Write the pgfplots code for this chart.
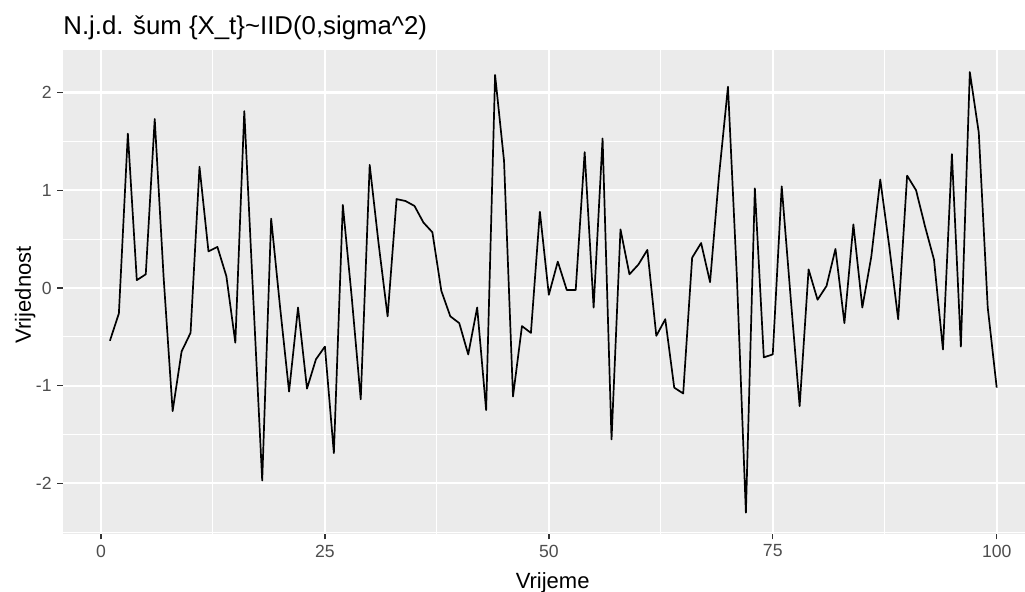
\documentclass[border=0pt]{standalone}
\usepackage{pgfplots}
\pgfplotsset{compat=1.18}
\usepackage{fontspec}
\setmainfont{Liberation Sans}
\definecolor{panelbg}{HTML}{EBEBEB}
\definecolor{ticklab}{HTML}{4D4D4D}
\definecolor{tickcol}{HTML}{333333}
\begin{document}
\begin{tikzpicture}
\path[use as bounding box] (-31.5pt,-29pt) rectangle (481pt,267pt);
\begin{axis}[
  at={(0,0)}, anchor=south west,
  width=481pt, height=242pt, scale only axis,
  xmin=-4.24, xmax=103.16, ymin=-2.518, ymax=2.436,
  axis background/.style={fill=panelbg},
  axis line style={draw=none},
  xtick={0,25,50,75,100}, xticklabels={0,25,50,75,100},
  ytick={-2,-1,0,1,2}, yticklabels={{-2},{-1},0,1,2},
  minor xtick={12.5,37.5,62.5,87.5},
  minor ytick={-2.5,-1.5,-0.5,0.5,1.5},
  grid=both,
  major grid style={white, line width=1.1pt},
  minor grid style={white, line width=0.55pt},
  tick align=outside,
  major tick length=2.75pt, minor tick length=0pt,
  tick style={tickcol, line width=0.7pt},
  xtick pos=left, ytick pos=left,
  ticklabel style={font=\fontsize{8.8pt}{10pt}\selectfont, text=ticklab, inner sep=0pt},
  yticklabel style={anchor=east, xshift=-2.75pt},
  xticklabel style={anchor=north, yshift=-2.5pt},
  title={N.j.d. šum \{X\_t\}\textasciitilde IID(0,sigma\textasciicircum 2)},
  every axis title/.style={at={([yshift=7.5pt]axis description cs:0,1)}, anchor=base west, inner sep=0pt, font=\fontsize{12.9pt}{14pt}\selectfont},
  xlabel={Vrijeme},
  xlabel style={at={([yshift=-27.5pt]axis description cs:0.509,0)}, anchor=base, inner sep=0pt, font=\fontsize{11pt}{13pt}\selectfont},
  ylabel={Vrijednost},
  ylabel style={at={([xshift=-16pt]axis description cs:0,0.494)}, anchor=base, inner sep=0pt, font=\fontsize{11pt}{13pt}\selectfont},
  clip=true,
]
\addplot[black, line width=0.85pt, line join=round] coordinates {
(1,-0.54) (2,-0.26) (3,1.58) (4,0.08) (5,0.14) (6,1.73) (7,0.1) (8,-1.26) (9,-0.65) (10,-0.46)
(11,1.24) (12,0.375) (13,0.42) (14,0.12) (15,-0.56) (16,1.81) (17,-0.1) (18,-1.97) (19,0.71) (20,-0.2)
(21,-1.06) (22,-0.20) (23,-1.03) (24,-0.73) (25,-0.60) (26,-1.69) (27,0.85) (28,-0.1) (29,-1.14) (30,1.26)
(31,0.45) (32,-0.29) (33,0.91) (34,0.89) (35,0.84) (36,0.67) (37,0.57) (38,-0.03) (39,-0.29) (40,-0.36)
(41,-0.68) (42,-0.20) (43,-1.25) (44,2.18) (45,1.3) (46,-1.11) (47,-0.39) (48,-0.46) (49,0.78) (50,-0.07)
(51,0.27) (52,-0.02) (53,-0.02) (54,1.39) (55,-0.20) (56,1.53) (57,-1.55) (58,0.60) (59,0.14) (60,0.24)
(61,0.39) (62,-0.49) (63,-0.32) (64,-1.02) (65,-1.08) (66,0.31) (67,0.46) (68,0.06) (69,1.15) (70,2.06)
(71,0.1) (72,-2.30) (73,1.02) (74,-0.71) (75,-0.68) (76,1.04) (77,-0.1) (78,-1.21) (79,0.19) (80,-0.12)
(81,0.02) (82,0.40) (83,-0.36) (84,0.65) (85,-0.20) (86,0.32) (87,1.11) (88,0.43) (89,-0.32) (90,1.15)
(91,1.0) (92,0.63) (93,0.29) (94,-0.63) (95,1.37) (96,-0.60) (97,2.21) (98,1.59) (99,-0.2) (100,-1.02)
};
\end{axis}
\end{tikzpicture}
\end{document}
